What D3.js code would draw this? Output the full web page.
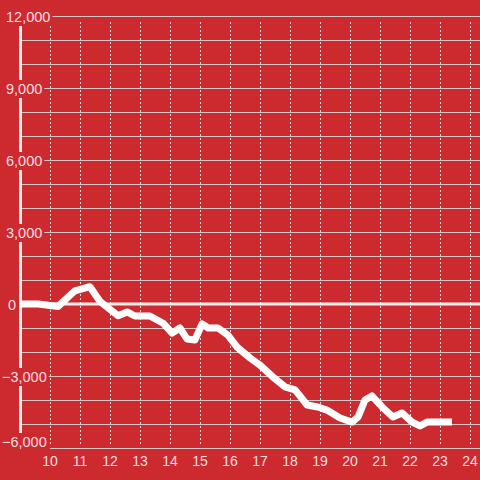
<!DOCTYPE html>
<html><head><meta charset="utf-8">
<script src="https://cdn.jsdelivr.net/npm/d3@7"></script>
<style>html,body{margin:0;padding:0;background:#cd2a30;}svg{display:block;}</style>
</head><body>
<svg id="c" width="480" height="480"></svg>
<script>
const times = [9.0, 9.6, 10.27, 10.83, 11.33, 11.67, 12.27, 12.57, 12.83, 13.33, 13.77, 14.07, 14.33, 14.57, 14.83, 15.07, 15.27, 15.6, 15.93, 16.23, 16.67, 17.0, 17.43, 17.83, 18.17, 18.57, 18.93, 19.23, 19.67, 20.07, 20.27, 20.5, 20.73, 21.07, 21.43, 21.73, 22.07, 22.33, 22.57, 23.4];
const values = [0, 0, -100, 550, 720, 100, -490, -330, -500, -500, -800, -1210, -1000, -1460, -1500, -830, -1000, -1000, -1300, -1790, -2250, -2550, -3040, -3450, -3580, -4210, -4290, -4420, -4750, -4920, -4700, -4000, -3830, -4290, -4710, -4540, -4920, -5080, -4920, -4920];
const xTicks = [10, 11, 12, 13, 14, 15, 16, 17, 18, 19, 20, 21, 22, 23, 24];
const yMajor = [-6000, -3000, 0, 3000, 6000, 9000, 12000];
const yGrid = [-5000, -4000, -3000, -2000, -1000, 1000, 2000, 3000, 4000, 5000, 6000, 7000, 8000, 9000, 10000, 11000, 12000];

const svg = d3.select('#c');
const W = 480, H = 480;
const x = d3.scaleLinear().domain([9, 24.3333]).range([20, 480]);
const y = d3.scaleLinear().domain([-6000, 12000]).range([448, 16]);
const bg = '#cd2a30';
const txt = '#f7dfe0';

svg.append('rect').attr('width', W).attr('height', H).attr('fill', bg);

// vertical dashed grid
svg.append('g').selectAll('line').data(xTicks).join('line')
  .attr('x1', d => Math.round(x(d)) + 0.5).attr('x2', d => Math.round(x(d)) + 0.5)
  .attr('y1', 22).attr('y2', 446)
  .attr('stroke', '#e6d6d6').attr('stroke-width', 1).attr('stroke-dasharray', '2,2');

// horizontal grid
svg.append('g').selectAll('line').data(yGrid).join('line')
  .attr('x1', 22).attr('x2', W)
  .attr('y1', d => Math.round(y(d)) + 0.5).attr('y2', d => Math.round(y(d)) + 0.5)
  .attr('stroke', '#cfc6c6').attr('stroke-width', 1.2);

// bottom axis line
svg.append('line').attr('x1', x(10)).attr('x2', W)
  .attr('y1', y(-6000) + 0.5).attr('y2', y(-6000) + 0.5)
  .attr('stroke', '#cfc6c6').attr('stroke-width', 1.2);

// zero line
svg.append('line').attr('x1', 22).attr('x2', W)
  .attr('y1', y(0)).attr('y2', y(0))
  .attr('stroke', '#f2eeee').attr('stroke-width', 3);

// y axis bar
svg.append('line').attr('x1', 20.5).attr('x2', 20.5)
  .attr('y1', y(12000)).attr('y2', y(-6000))
  .attr('stroke', '#f2eeee').attr('stroke-width', 3);

// data line
const line = d3.line().x((d, i) => x(times[i])).y(d => y(d));
svg.append('path').datum(values).attr('d', line)
  .attr('fill', 'none').attr('stroke', '#ffffff').attr('stroke-width', 7)
  .attr('stroke-linejoin', 'round').attr('stroke-linecap', 'butt');

// y labels with background boxes
const fmt = d3.format(',');
const yl = svg.append('g').selectAll('g').data(yMajor).join('g');
yl.each(function(d) {
  const g = d3.select(this);
  const t = g.append('text')
    .attr('x', d < 0 ? 2 : (d === 0 ? 8 : 6))
    .attr('y', Math.min(y(d) + 6, 447))
    .attr('font-family', 'Liberation Sans, Arial, sans-serif')
    .attr('font-size', 14.5)
    .attr('fill', txt)
    .text(fmt(d));
  const b = t.node().getBBox();
  g.insert('rect', 'text')
    .attr('x', 0).attr('y', b.y - 1)
    .attr('width', b.x + b.width + 2).attr('height', b.height + 2)
    .attr('fill', bg);
});

// x labels
svg.append('g').selectAll('text').data(xTicks).join('text')
  .attr('x', d => x(d)).attr('y', 466)
  .attr('text-anchor', 'middle')
  .attr('font-family', 'Liberation Sans, Arial, sans-serif')
  .attr('font-size', 14)
  .attr('fill', txt)
  .text(d => d);
</script>
</body></html>
